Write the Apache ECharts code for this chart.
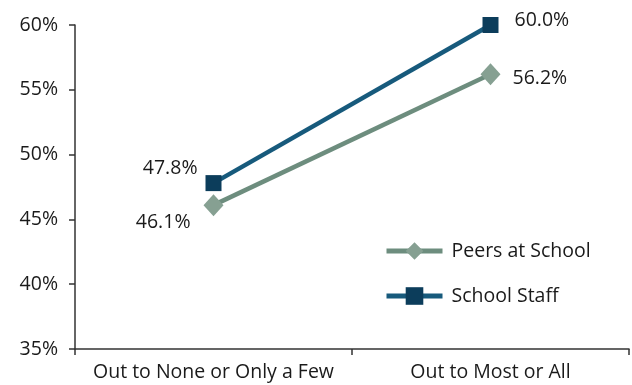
<!DOCTYPE html>
<html>
<head>
<meta charset="utf-8">
<script src="https://cdn.jsdelivr.net/npm/echarts@6/dist/echarts.min.js"></script>
<style>
  html, body { margin: 0; padding: 0; background: #fff; }
  #chart { width: 632px; height: 385px; }
</style>
</head>
<body>
<div id="chart"></div>
<script>
const categories = ["Out to None or Only a Few", "Out to Most or All"]
const peers = [46.1, 56.2]
const staff = [47.8, 60.0]
const yTicks = [35, 40, 45, 50, 55, 60]

const font = "Open Sans"
const fs = 19.5
const chart = echarts.init(document.getElementById("chart"))

chart.setOption({
  animation: false,
  textStyle: { fontFamily: font },
  grid: { left: 75, right: 3, top: 25, bottom: 36 },
  legend: {
    orient: "vertical",
    left: 379,
    top: 236,
    itemWidth: 56,
    itemHeight: 22,
    itemGap: 25,
    lineStyle: { width: 5 },
    textStyle: { color: "#1a1a1a", fontSize: fs, fontFamily: font, padding: [0, 0, 0, 4] },
    data: ["Peers at School", "School Staff"]
  },
  xAxis: {
    type: "category",
    data: categories,
    boundaryGap: true,
    axisLine: { lineStyle: { color: "#333", width: 1.5 } },
    axisTick: { show: true, length: 6, lineStyle: { color: "#333", width: 1.5 } },
    axisLabel: { color: "#1a1a1a", fontSize: fs, margin: 13, interval: 0 }
  },
  yAxis: {
    type: "value",
    min: yTicks[0],
    max: yTicks[yTicks.length - 1],
    interval: 5,
    axisLine: { show: true, lineStyle: { color: "#333", width: 1.5 } },
    axisTick: { show: true, length: 6, lineStyle: { color: "#333", width: 1.5 } },
    splitLine: { show: false },
    axisLabel: { color: "#1a1a1a", fontSize: fs, margin: 17, formatter: "{value}%" }
  },
  series: [
    {
      name: "Peers at School",
      type: "line",
      data: [
        { value: peers[0], label: { position: "left", distance: 13, offset: [0, 17] } },
        { value: peers[1], label: { position: "right", distance: 12, offset: [0, 4] } }
      ],
      symbol: "diamond",
      symbolSize: [20, 22],
      lineStyle: { color: "#6d8d7e", width: 4.5 },
      itemStyle: { color: "#86a092" },
      label: {
        show: true,
        color: "#1a1a1a",
        fontSize: fs,
        formatter: p => p.value.toFixed(1) + "%"
      },
      z: 2
    },
    {
      name: "School Staff",
      type: "line",
      data: [
        { value: staff[0], label: { position: "left", distance: 8, offset: [0, -15] } },
        { value: staff[1], label: { position: "right", distance: 16, offset: [0, -5] } }
      ],
      symbol: "rect",
      symbolSize: 16,
      lineStyle: { color: "#175a7c", width: 4.5 },
      itemStyle: { color: "#0c3d5b" },
      label: {
        show: true,
        color: "#1a1a1a",
        fontSize: fs,
        formatter: p => p.value.toFixed(1) + "%"
      },
      z: 3
    }
  ]
})
</script>
</body>
</html>
